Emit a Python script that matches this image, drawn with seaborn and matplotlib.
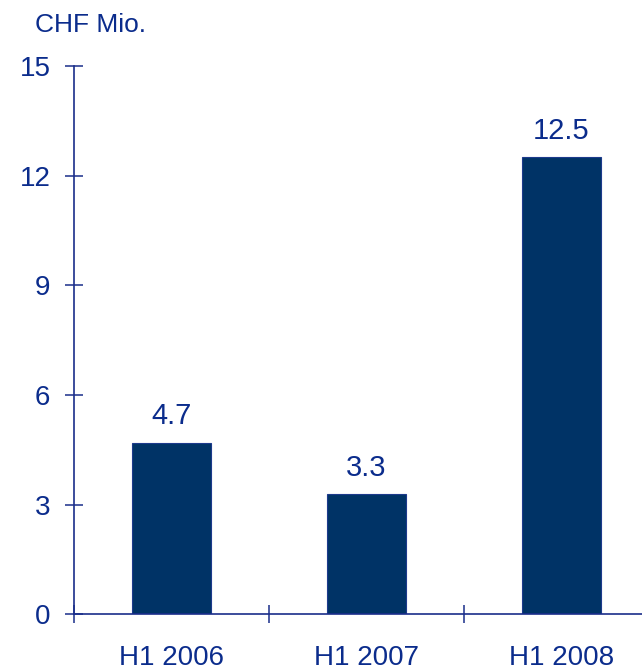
import matplotlib
matplotlib.use("Agg")
import matplotlib.pyplot as plt
import seaborn as sns
import pandas as pd

periods = ["H1 2006", "H1 2007", "H1 2008"]
values = [4.7, 3.3, 12.5]
value_labels = ["4.7", "3.3", "12.5"]
y_ticks = [0, 3, 6, 9, 12, 15]

BAR = "#003366"
EDGE = "#1d3a8c"
INK = "#0b2c8c"
AXIS = "#1a2e8a"

sns.set_theme(style="white")
plt.rcParams["font.family"] = ["Liberation Sans", "DejaVu Sans"]

df = pd.DataFrame({"period": periods, "value": values})

fig = plt.figure(figsize=(6.42, 6.70), dpi=100)
ax = fig.add_axes([0.1153, 0.0831, 0.8847, 0.8184])

sns.barplot(data=df, x="period", y="value", order=periods, color=BAR,
            width=0.405, saturation=1, edgecolor=EDGE, linewidth=0.8, ax=ax)

for i, (v, lab) in enumerate(zip(values, value_labels)):
    ax.annotate(lab, xy=(i, v), xytext=(0, 13), textcoords="offset points",
                ha="center", va="baseline", fontsize=21, color=INK)

ax.set_ylim(0, 15)
ax.set_xlim(-0.5, 2.413)
ax.set_yticks(y_ticks)
ax.set_yticklabels([str(t) for t in y_ticks])

# category labels sit between the boundary ticks
ax.set_xticks([0, 1, 2])
ax.set_xticklabels(periods)
ax.set_xticks([-0.5, 0.5, 1.5], minor=True)
ax.tick_params(axis="x", which="major", length=0, pad=22, labelsize=20,
               labelcolor=INK, bottom=True)
ax.tick_params(axis="x", which="minor", direction="inout", length=13,
               width=1.1, color=AXIS, bottom=True)
ax.tick_params(axis="y", direction="inout", length=13, width=1.1, color=AXIS,
               pad=10.5, labelsize=20, labelcolor=INK, left=True)

ax.set_xlabel("")
ax.set_ylabel("")
for side in ("top", "right"):
    ax.spines[side].set_visible(False)
for side in ("left", "bottom"):
    ax.spines[side].set_color(AXIS)
    ax.spines[side].set_linewidth(1.2)
ax.spines["left"].set_bounds(0, 15)

fig.text(35 / 642, 1 - 32 / 670, "CHF Mio.", fontsize=19, color=INK,
         ha="left", va="baseline")

fig.savefig("out.png", dpi=100)
